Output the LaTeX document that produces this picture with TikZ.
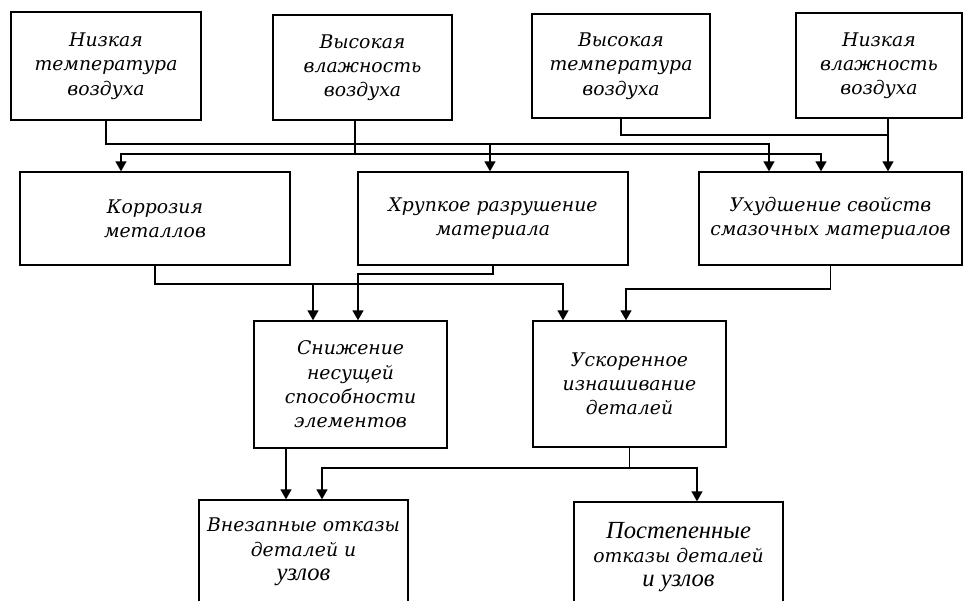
\documentclass[tikz,border=0pt]{standalone}
\usepackage{fontspec}
\setmainfont{DejaVu Serif}
\newfontfamily\timesfont{Liberation Serif}
\usetikzlibrary{arrows.meta}
\tikzset{
  box/.style={draw, line width=0.8pt, align=center, inner sep=0pt, font=\fontsize{10.7}{13.8}\selectfont\itshape},
  wire/.style={line width=0.8pt},
  arr/.style={line width=0.8pt, -{Triangle[width=0.22cm,length=0.2cm]}}
}
\begin{document}
\begin{tikzpicture}[x=0.02cm,y=-0.02cm]
\useasboundingbox (0,0) rectangle (964,600);
\clip (0,0) rectangle (964,600);
\fill[white] (0,0) rectangle (964,600);
\node[box, minimum width=3.8cm, minimum height=2.16cm] (tlow) at (106,66) {Низкая\\температура\\воздуха};
\node[box, minimum width=3.58cm, minimum height=2.1cm] (hhum) at (362.5,67.5) {Высокая\\влажность\\воздуха};
\node[box, minimum width=3.56cm, minimum height=2.08cm] (thigh) at (621,66) {Высокая\\температура\\воздуха};
\node[box, minimum width=3.32cm, minimum height=2.1cm] (lhum) at (879,65.5) {Низкая\\влажность\\воздуха};
\node[box, minimum width=5.4cm, minimum height=1.86cm] (kor) at (155,218.5) {Коррозия\\металлов};
\node[box, minimum width=5.4cm, minimum height=1.86cm] (brit) at (493,218.5) {Хрупкое разрушение\\материала};
\node[box, minimum width=5.26cm, minimum height=1.86cm] (lub) at (830.5,218.5) {Ухудшение свойств\\смазочных материалов};
\node[box, minimum width=3.86cm, minimum height=2.54cm] (bear) at (350.5,384.5) {Снижение\\несущей\\способности\\элементов};
\node[box, minimum width=3.86cm, minimum height=2.52cm] (wear) at (629.5,384) {Ускоренное\\изнашивание\\деталей};
\node[box, minimum width=4.18cm, minimum height=2.08cm] (sudd) at (303.5,552) {Внезапные отказы\\деталей и\\{\timesfont\fontsize{14}{14}\selectfont узлов}};
\node[box, minimum width=4.18cm, minimum height=2.2cm] (grad) at (678.5,557) {{\timesfont\fontsize{14}{14}\selectfont Постепенные}\\отказы деталей\\{\timesfont\fontsize{14}{14}\selectfont и узлов}};
\draw[arr] (tlow.south) |- (490,144) -- (490,0 |- brit.north);
\draw[arr] (tlow.south) |- (769,144) -- (769,0 |- lub.north);
\draw[arr] (355,0 |- hhum.south) |- (121,154) -- (121,0 |- kor.north);
\draw[arr] (355,0 |- hhum.south) |- (821,154) -- (821,0 |- lub.north);
\draw[wire] (thigh.south) |- (888,135);
\draw[arr] (888,0 |- lhum.south) -- (888,0 |- lub.north);
\draw[arr] (kor.south) |- (313,284) -- (313,0 |- bear.north);
\draw[arr] (kor.south) |- (563,284) -- (563,0 |- wear.north);
\draw[arr] (brit.south) |- (358,274) -- (358,0 |- bear.north);
\draw[arr] (lub.south) |- (626,289) -- (626,0 |- wear.north);
\draw[arr] (286,0 |- bear.south) -- (286,0 |- sudd.north);
\draw[arr] (wear.south) |- (322,468) -- (322,0 |- sudd.north);
\draw[arr] (wear.south) |- (697,468) -- (697,0 |- grad.north);
\end{tikzpicture}
\end{document}
